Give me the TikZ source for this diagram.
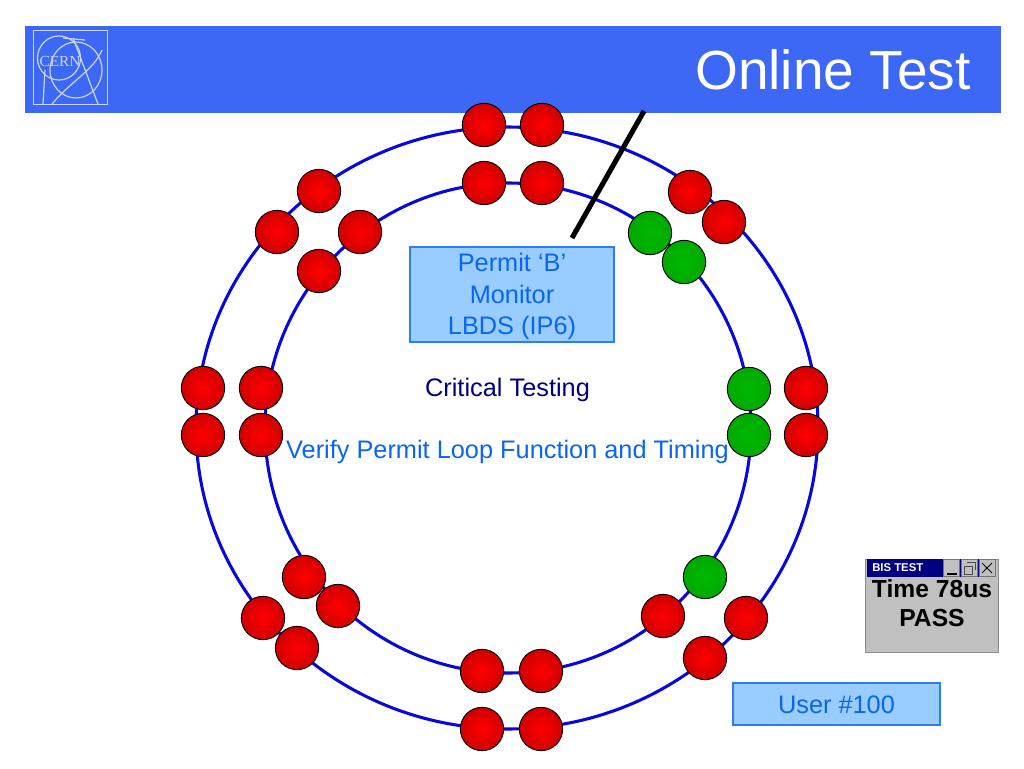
\documentclass[tikz,border=0pt]{standalone}
\usepackage{fontspec}
\setmainfont{Liberation Sans}
\newfontfamily\logofont{Liberation Serif}
\definecolor{hdr}{HTML}{3D67F5}
\definecolor{ringc}{HTML}{0808DC}
\definecolor{boxf}{HTML}{99CCFF}
\definecolor{boxd}{HTML}{2A7DF5}
\definecolor{txtb}{HTML}{0A66F0}
\definecolor{navy}{HTML}{000080}
\definecolor{redc}{HTML}{E60000}
\definecolor{grnc}{HTML}{00B800}
\definecolor{grayw}{HTML}{C0C0C0}
\definecolor{logoc}{HTML}{C9D6F8}
\tikzset{
  x=0.75pt,y=-0.75pt,
  ring/.style={draw=ringc,line width=2.3pt},
  redlamp/.style={circle,draw=black,line width=0.7pt,minimum size=32.5pt,inner sep=0pt,inner color=red!100,outer color=redc!90!black},
  grnlamp/.style={circle,draw=black,line width=0.7pt,minimum size=32.5pt,inner sep=0pt,inner color=grnc!100!white,outer color=grnc!92!black},
  bluebox/.style={draw=boxd,fill=boxf,line width=1.3pt,text=txtb,font=\fontsize{19}{23.3}\selectfont,align=center,inner sep=0pt},
  logo/.style={draw=logoc,line width=0.9pt},
  winbtn/.style={draw=black!55,fill=grayw,line width=0.4pt,inner sep=0pt,minimum width=12pt,minimum height=13pt},
}
\begin{document}
\begin{tikzpicture}
\useasboundingbox (0,0) rectangle (1024,768);
\fill[white] (0,0) rectangle (1024,768);
\node[draw=none,fill=hdr,minimum width=732pt,minimum height=65pt,inner sep=0pt,anchor=north west] (header) at (25,26) {};
\node[text=white,font=\fontsize{41.3}{46}\selectfont,anchor=east,inner sep=0pt] (title) at (971,70) {Online Test};
% logo
\node[draw=logoc,line width=0.7pt,minimum width=55.5pt,minimum height=55.5pt,inner sep=0pt,anchor=north west] (logobox) at (33,30) {};
\begin{scope}
\clip (33,30) rectangle (107,104);
\draw[logo] (59,58) ellipse (21.5 and 22);
\draw[logo] (76,70) ellipse (26 and 28);
\draw[logo] (52,104) .. controls (70,82) and (94,70) .. (102,50);
\draw[logo] (63,38) -- (85,40);
\draw[logo] (73,38) -- (98,104);
\draw[logo] (45,70) -- (43,104);
\end{scope}
\node[text=logoc,font=\logofont\fontsize{11.5}{12}\selectfont,inner sep=0pt] (cern) at (60,61) {CERN};
% rings
\draw[ring] (507,428) ellipse (311 and 301);
\draw[ring] (508,428) ellipse (243 and 245);
% stem
\coordinate (stemA) at (644,111);
\coordinate (stemB) at (572,238);
\draw[black,line width=3.8pt] (stemA) -- (stemB);
% lamps
\foreach \n/\x/\y in {a/484/125,b/542/125,c/484/183,d/542/183,e/319/191,f/277/232,g/360/232,h/319/271,
  i/690/192,j/724/222,k/203/388,l/203/435,m/261/388,n/261/435,o/806/388,p/806/435,
  q/304/577,r/338/606,s/263/618,t/297/648,u/663/616,v/746/618,w/705/658,x/482/671,y/541/671,z/482/729,zz/541/729}
  \node[redlamp] (lamp\n) at (\x,\y) {};
\foreach \n/\x/\y in {a/650/233,b/684/262,c/749/389,d/749/435,e/705/577}
  \node[grnlamp] (green\n) at (\x,\y) {};
% boxes
\node[bluebox,minimum width=153pt,minimum height=71pt] (permit) at (512,294.5) {};
\node[text=txtb,font=\fontsize{19}{23.3}\selectfont,align=center,inner sep=0pt] (permittext) at (512,296.5) {Permit ‘B’\\Monitor\\LBDS (IP6)};
\node[bluebox,minimum width=155pt,minimum height=32pt] (user) at (836.5,704) {};
\node[text=txtb,font=\fontsize{19}{23}\selectfont,inner sep=0pt] (usertext) at (836.5,705) {User \#100};
\node[text=navy,font=\fontsize{19}{22}\selectfont,inner sep=0pt] (crit) at (507.5,390) {Critical Testing};
\node[text=txtb,font=\fontsize{19}{22}\selectfont,inner sep=0pt] (verify) at (507.5,452) {Verify Permit Loop Function and Timing};
% window
\node[draw=black!45,fill=grayw,line width=0.7pt,minimum width=100pt,minimum height=70pt,inner sep=0pt,anchor=north west] (win) at (865,559) {};
\fill[navy] (867,559) rectangle (996,577);
\node[text=white,font=\bfseries\fontsize{8.5}{10}\selectfont,anchor=west,inner sep=0pt] (wintitle) at (872,568) {BIS TEST};
\node[winbtn] (bmin) at (951.5,568) {};
\node[winbtn] (bmax) at (969,568) {};
\node[winbtn] (bclose) at (987,568) {};
\draw[black,line width=0.9pt] (947,574) -- (957,574);
\draw[black!70,line width=0.5pt] (964,566) rectangle (972,574) (967,562) -- (975,562) -- (975,570);
\draw[black,line width=0.7pt] (982,563) -- (992,573) (992,563) -- (982,573);
\node[text=black,font=\bfseries\fontsize{18.5}{21}\selectfont,inner sep=0pt] (time) at (932,589) {Time 78us};
\node[text=black,font=\bfseries\fontsize{18.5}{21}\selectfont,inner sep=0pt] (pass) at (932,618) {PASS};
\end{tikzpicture}
\end{document}
